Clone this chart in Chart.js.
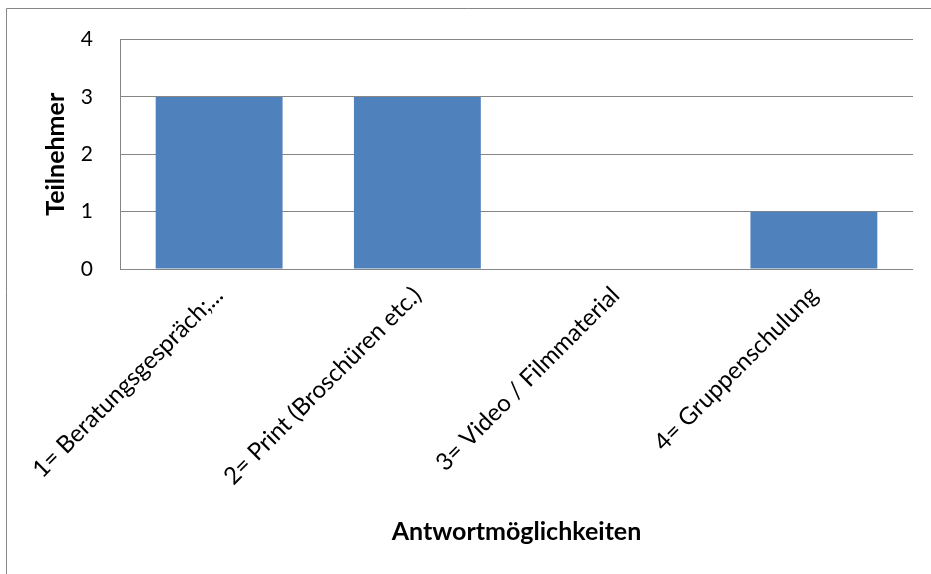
<!DOCTYPE html>
<html>
<head>
<meta charset="utf-8">
<script src="https://cdn.jsdelivr.net/npm/chart.js@4.4.1/dist/chart.umd.min.js"></script>
<style>
    html, body { margin: 0; padding: 0; background: #fff; }
    #wrap { width: 931px; height: 574px; }
</style>
</head>
<body>
<div id="wrap"><canvas id="chart" width="931" height="574"></canvas></div>
<script>
const categories = [
    '1= Beratungsgespräch;...',
    '2= Print (Broschüren etc.)',
    '3= Video / Filmmaterial',
    '4= Gruppenschulung'
];
const participants = [3, 3, 0, 1];
const yTicks = [0, 1, 2, 3, 4];

const gridColor = '#868686';
const fontFamily = 'Lato, "Open Sans", sans-serif';

// thin frame around the whole chart (left and top edges are visible)
const chartFrame = {
    id: 'chartFrame',
    beforeDraw(chart) {
        const ctx = chart.ctx;
        ctx.save();
        ctx.strokeStyle = gridColor;
        ctx.lineWidth = 1;
        ctx.beginPath();
        ctx.moveTo(6.5, chart.height);
        ctx.lineTo(6.5, 8.5);
        ctx.lineTo(chart.width, 8.5);
        ctx.stroke();
        ctx.restore();
    }
};

let ctx = document.getElementById('chart').getContext('2d');
let config = {
    type: 'bar',
    data: {
        labels: categories,
        datasets: [
            {
                label: 'Teilnehmer',
                data: participants,
                backgroundColor: '#4F81BD',
                borderWidth: 0,
                categoryPercentage: 0.64,
                barPercentage: 1.0
            }
        ]
    },
    options: {
        responsive: false,
        animation: false,
        layout: {
            padding: { left: 0, top: 38, right: 18, bottom: 0 }
        },
        scales: {
            x: {
                grid: { display: false },
                border: { display: false },
                ticks: {
                    color: '#000',
                    font: { family: fontFamily, size: 24 },
                    minRotation: 45,
                    maxRotation: 45,
                    autoSkip: false,
                    padding: 4
                },
                title: {
                    display: true,
                    text: 'Antwortmöglichkeiten',
                    color: '#000',
                    font: { family: fontFamily, size: 25, weight: 'bold' },
                    padding: { top: 0, bottom: 27 }
                },
                afterFit(scale) { scale.height = 305; }
            },
            y: {
                min: 0,
                max: 4,
                afterBuildTicks(scale) {
                    scale.ticks = yTicks.map(v => ({ value: v }));
                },
                grid: {
                    color: gridColor,
                    lineWidth: 1,
                    drawTicks: false
                },
                border: { display: true, color: gridColor, width: 1 },
                ticks: {
                    color: '#000',
                    font: { family: fontFamily, size: 21 },
                    padding: 27
                },
                title: {
                    display: true,
                    text: 'Teilnehmer',
                    color: '#000',
                    font: { family: fontFamily, size: 25, weight: 'bold' },
                    padding: { top: 41, bottom: 0 }
                },
                afterFit(scale) { scale.width = 120; }
            }
        },
        plugins: {
            legend: { display: false },
            tooltip: { enabled: false }
        }
    },
    plugins: [chartFrame]
};

let chart = new Chart(ctx, config);
</script>
</body>
</html>
